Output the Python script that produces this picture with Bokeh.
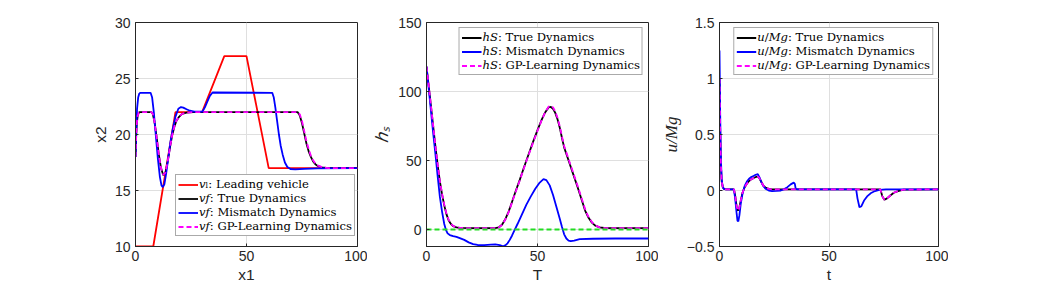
from bokeh.plotting import figure
from bokeh.models import Range1d, FixedTicker, Legend, LegendItem
from bokeh.layouts import row
from bokeh.embed import file_html
from bokeh.resources import INLINE

# ---------------- data: panel 1 (x1 vs x2) ----------------
lead_x = [0, 8, 18, 30, 40, 50, 60, 100]
lead_v = [10, 10, 22, 22, 27, 27, 17, 17]

true1_x = [0, 0.3, 0.6, 1, 1.5, 2, 7, 7.7, 8.5, 9.5, 10.5, 11.5, 12.5, 13.5, 14.5, 15.5, 16.5, 17.5, 18.5, 19.5, 21, 23, 26,
           73, 74, 75, 76, 77, 78, 79, 80, 81, 82, 84, 87, 100]
true1_v = [18, 19.8, 21.0, 21.7, 21.95, 22, 22, 21.9, 21.2, 19.8, 18.2, 17.0, 16.36, 16.6, 17.6, 18.8, 19.9, 20.7, 21.25, 21.55, 21.85, 21.95, 22,
           22, 21.7, 21.0, 20.1, 19.2, 18.5, 18.0, 17.6, 17.35, 17.2, 17.07, 17.0, 17.0]

blue1_x = [0, 0.3, 0.7, 1.2, 1.7, 2.2, 6.8, 7.5, 8.3, 9.2, 10.1, 11.0, 11.7, 12.3, 13.0, 13.8, 14.7, 15.7, 16.8, 18.0, 19.3, 20.5,
           21.5, 23, 24.5, 26.5, 30.2, 31.3, 32.4, 33.5, 34.7, 61.6, 62.3, 63.0, 63.8, 64.6, 65.4, 66.3, 67.3, 68.4, 69.8, 72, 76, 82, 100]
blue1_v = [18, 20.3, 22.3, 23.3, 23.65, 23.72, 23.72, 23.3, 21.9, 19.8, 17.8, 16.2, 15.45, 15.3, 15.55, 16.5, 17.8, 19.3, 20.5, 21.6, 22.3, 22.45,
           22.4, 22.25, 22.12, 22.05, 22.05, 22.45, 22.95, 23.45, 23.75, 23.72, 23.3, 22.4, 21.2, 20.0, 19.0, 18.2, 17.5, 17.1, 16.92, 16.88, 16.93, 16.97, 17.0]

gp1_x = [0, 0.3, 0.6, 1, 1.5, 2, 7, 7.7, 8.5, 9.5, 10.5, 11.5, 12.5, 13.5, 14.5, 15.5, 16.5, 17.5, 18.5, 19.5, 21, 23, 26,
         73, 74, 75, 76, 77, 78, 79, 80, 81, 82, 84, 87, 100]
gp1_v = [18, 19.8, 21.0, 21.7, 21.95, 22, 22, 21.9, 21.2, 19.8, 18.2, 17.0, 16.4, 16.6, 17.6, 18.8, 19.9, 20.7, 21.25, 21.55, 21.85, 21.95, 22,
         22, 21.8, 21.2, 20.3, 19.4, 18.7, 18.1, 17.7, 17.4, 17.25, 17.08, 17.0, 17.0]

# ---------------- data: panel 2 (T vs h_S) ----------------
true2_x = [0, 1, 2, 3, 4, 5, 6, 7, 8, 9, 10, 11, 12, 13.5, 15, 20, 31, 32.5, 34, 35.5, 37, 38.5, 40, 42, 44, 46, 48, 50, 52, 53.5,
           55, 56, 57, 58, 59, 60, 61, 62, 64, 66, 68, 70, 71.5, 73, 74.5, 76, 78, 80, 85, 100]
true2_h = [118, 104, 89.5, 75, 60.5, 47, 35, 25.5, 17.5, 11, 6.5, 4, 2.5, 1.6, 1.2, 1.0, 1.0, 1.5, 3.5, 7.5, 13, 20, 27, 36, 45.5, 54.5, 63.5, 72, 80, 85,
           88.5, 88.8, 87.5, 84.5, 80, 74, 66.5, 59.5, 50, 40.5, 31, 21, 13.5, 8.5, 5, 2.8, 1.5, 1.1, 1.0, 1.0]

blue2_x = [0, 1, 2, 3, 4, 5, 6, 7, 8, 8.7, 9.5, 10.5, 12, 13.5, 15, 17, 19, 21, 23, 26, 29, 31, 33, 34.5, 35.5, 36.5, 37.5, 38.5,
           39.5, 41, 43, 45, 47, 49, 51, 52.7, 54, 55.5, 57, 58.5, 60, 61, 62, 63, 64, 65, 66.5, 69, 75, 85, 100]
blue2_h = [118, 102, 86, 70, 55, 39, 24, 13, 4, 0, -2.8, -4, -4.8, -5.3, -6.2, -7.5, -9.3, -10.6, -11.2, -11.3, -11.0, -10.8, -11.3, -12.2, -11.5, -10, -7.5, -4.5,
           -1, 4, 11, 18, 24, 29.5, 34, 36.5, 35.8, 32, 25, 16.5, 8, 2, -3.5, -6.5, -8, -8.4, -8, -7, -6.7, -6.5, -6.5]

gp2_x = [0, 1, 2, 3, 4, 5, 6, 7, 8, 9, 10, 11, 12, 13.5, 15, 20, 31, 32.5, 34, 35.5, 37, 38.5, 40, 42, 44, 46, 48, 50, 52, 53.5,
         55, 56, 57, 58, 59, 60, 61, 62, 64, 66, 68, 70, 71.5, 73, 74.5, 76, 78, 80, 85, 100]
gp2_h = [118, 104.5, 90, 75.5, 61, 47.5, 35.5, 26, 18, 11.5, 7, 4.2, 2.6, 1.6, 1.2, 1.0, 1.0, 1.5, 3.3, 7.2, 12.6, 19.5, 26.5, 35.5, 45, 54, 63, 71.5, 79.8, 85.2,
         89, 89.6, 88.5, 85.5, 81, 75, 67.5, 60.5, 51, 41.5, 32, 22, 14.5, 9, 5.4, 3, 1.6, 1.1, 1.0, 1.0]

bound_x = [0, 100]
bound_h = [0, 0]

# ---------------- data: panel 3 (t vs u/Mg) ----------------
true3_x = [0, 0.3, 0.6, 1, 1.5, 2, 3, 6.6, 7.2, 7.8, 8.4, 9, 9.7, 10.5, 11.5, 12.5, 13.5, 14.5, 15.5, 16.5, 17.5, 18.2, 19, 20, 21,
           22.5, 24, 73.5, 74.3, 75.3, 76.5, 78, 79.6, 81.5, 84, 100]
true3_u = [1.0, 0.55, 0.25, 0.08, 0.03, 0.015, 0.01, 0.01, -0.05, -0.14, -0.18, -0.16, -0.09, -0.02, 0.03, 0.06, 0.085, 0.1, 0.11, 0.12, 0.125, 0.11, 0.08, 0.045, 0.025,
           0.015, 0.01, 0.01, -0.05, -0.083, -0.07, -0.045, -0.02, -0.005, 0.008, 0.01]

blue3_x = [0, 0.3, 0.6, 1, 1.5, 2, 3, 6.6, 7.2, 7.8, 8.2, 8.6, 9.1, 9.7, 10.5, 11.5, 12.5, 13.5, 14.5, 15.5, 16.5, 17.5, 18.2, 19, 20,
           21, 22.5, 24, 26, 28, 29.4, 31, 32.5, 33.9, 34.4, 34.8, 35.5, 62.4, 63, 63.9, 64.8, 66, 67.4, 69, 71, 73, 76, 100]
blue3_u = [1.25, 0.7, 0.3, 0.1, 0.03, 0.015, 0.01, 0.01, -0.08, -0.2, -0.27, -0.275, -0.22, -0.12, -0.03, 0.04, 0.08, 0.105, 0.12, 0.13, 0.14, 0.146, 0.12, 0.08, 0.04,
           0.015, 0.0, -0.005, -0.003, 0.0, 0.01, 0.03, 0.055, 0.07, 0.06, 0.015, 0.01, 0.01, -0.07, -0.15, -0.14, -0.09, -0.053, -0.025, -0.005, 0.005, 0.01, 0.01]

gp3_x = [0, 0.3, 0.6, 1, 1.5, 2, 3, 6.6, 7.2, 7.8, 8.4, 9, 9.7, 10.5, 11.5, 12.5, 13.5, 14.5, 15.5, 16.5, 17.5, 18.2, 19, 20, 21,
         22.5, 24, 73.5, 74.3, 75.3, 76.5, 78, 79.6, 81.5, 84, 100]
gp3_u = [1.0, 0.55, 0.25, 0.08, 0.03, 0.015, 0.01, 0.01, -0.05, -0.14, -0.18, -0.16, -0.09, -0.02, 0.03, 0.06, 0.085, 0.1, 0.11, 0.12, 0.125, 0.11, 0.08, 0.045, 0.025,
         0.015, 0.01, 0.01, -0.05, -0.083, -0.07, -0.045, -0.02, -0.005, 0.008, 0.01]

x_ticks = [0, 50, 100]
y1_ticks = [10, 15, 20, 25, 30]
y2_ticks = [0, 50, 100, 150]
y3_ticks = [-0.5, 0, 0.5, 1, 1.5]

AX = "#262626"
GRID = "#dfdfdf"
SANS = "Liberation Sans"
SERIF = "Liberation Serif"
LEG_FONT = "DejaVu Serif"
LW = 1.8
DASH = "5 3"


def make_fig(width, left, right, ylim, yticks, xlabel, ylabel, ylabel_serif=False):
    p = figure(width=width, height=285, output_backend="svg", toolbar_location=None,
               x_range=Range1d(0, 100), y_range=Range1d(*ylim),
               min_border_left=left, min_border_right=right, min_border_top=22, min_border_bottom=38)
    p.background_fill_color = "white"
    p.border_fill_color = "white"
    p.outline_line_color = AX
    p.outline_line_width = 1
    p.xaxis.ticker = FixedTicker(ticks=x_ticks)
    p.yaxis.ticker = FixedTicker(ticks=yticks)
    for ax in (p.xaxis[0], p.yaxis[0]):
        ax.axis_line_color = AX
        ax.major_tick_line_color = AX
        ax.major_tick_in = 3
        ax.major_tick_out = 0
        ax.minor_tick_line_color = None
        ax.major_label_text_font = SANS
        ax.major_label_text_font_size = "14px"
        ax.major_label_text_color = AX
        ax.axis_label_text_color = AX
        ax.axis_label_text_font_style = "normal"
        ax.axis_label_text_font = SANS
        ax.axis_label_text_font_size = "15.5px"
    p.xaxis.axis_label = xlabel
    p.yaxis.axis_label = ylabel
    p.xaxis.major_label_standoff = 4
    p.xaxis.axis_label_standoff = 2
    p.yaxis.major_label_standoff = 5
    p.yaxis.axis_label_standoff = 3
    if ylabel_serif:
        p.yaxis.axis_label_text_font = SERIF
        p.yaxis.axis_label_text_font_style = "italic"
        p.yaxis.axis_label_text_font_size = "17px"
    p.xgrid.grid_line_color = GRID
    p.ygrid.grid_line_color = GRID
    return p


def make_legend(p, items, location, margin):
    lg = Legend(items=[LegendItem(label=l, renderers=[r]) for l, r in items], location=location)
    lg.label_text_font = LEG_FONT
    lg.label_text_font_size = "11.6px"
    lg.label_text_color = "black"
    lg.glyph_width = 20
    lg.glyph_height = 13
    lg.label_height = 13
    lg.label_standoff = 1
    lg.spacing = 0
    lg.padding = 2
    lg.margin = margin
    lg.border_line_color = "#555555"
    lg.border_line_width = 1
    lg.background_fill_alpha = 1
    p.add_layout(lg)


# panel 1
p1 = make_fig(367, 135, 10, (10, 30), y1_ticks, "x1", "x2")
r_lead = p1.line(lead_x, lead_v, color="#ff0000", line_width=LW)
r_t1 = p1.line(true1_x, true1_v, color="black", line_width=LW)
r_b1 = p1.line(blue1_x, blue1_v, color="#0000ff", line_width=LW)
r_g1 = p1.line(gp1_x, gp1_v, color="#ff00ff", line_width=LW, line_dash=DASH)
make_legend(p1, [("𝑣ₗ: Leading vehicle", r_lead), ("𝑣𝑓: True Dynamics", r_t1),
                 ("𝑣𝑓: Mismatch Dynamics", r_b1), ("𝑣𝑓: GP-Learning Dynamics", r_g1)], (40, 10), 0)

# panel 2
p2 = make_fig(291, 59, 10, (-12.3, 150), y2_ticks, "T", "ℎₛ", ylabel_serif=True)
r_t2 = p2.line(true2_x, true2_h, color="black", line_width=LW)
r_b2 = p2.line(blue2_x, blue2_h, color="#0000ff", line_width=LW)
r_g2 = p2.line(gp2_x, gp2_h, color="#ff00ff", line_width=LW, line_dash=DASH)
p2.line(bound_x, bound_h, color="#22dd22", line_width=LW, line_dash=DASH)
make_legend(p2, [("ℎ𝑆: True Dynamics", r_t2), ("ℎ𝑆: Mismatch Dynamics", r_b2),
                 ("ℎ𝑆: GP-Learning Dynamics", r_g2)], "top_right", 5)

# panel 3
p3 = make_fig(290, 61, 10, (-0.5, 1.5), y3_ticks, "t", "u/Mg", ylabel_serif=True)
r_t3 = p3.line(true3_x, true3_u, color="black", line_width=LW)
r_b3 = p3.line(blue3_x, blue3_u, color="#0000ff", line_width=LW)
r_g3 = p3.line(gp3_x, gp3_u, color="#ff00ff", line_width=LW, line_dash=DASH)
make_legend(p3, [("𝑢/𝑀𝑔: True Dynamics", r_t3), ("𝑢/𝑀𝑔: Mismatch Dynamics", r_b3),
                 ("𝑢/𝑀𝑔: GP-Learning Dynamics", r_g3)], "top_right", 5)

layout = row(p1, p2, p3)
open("out.html", "w").write(file_html(layout, INLINE))
